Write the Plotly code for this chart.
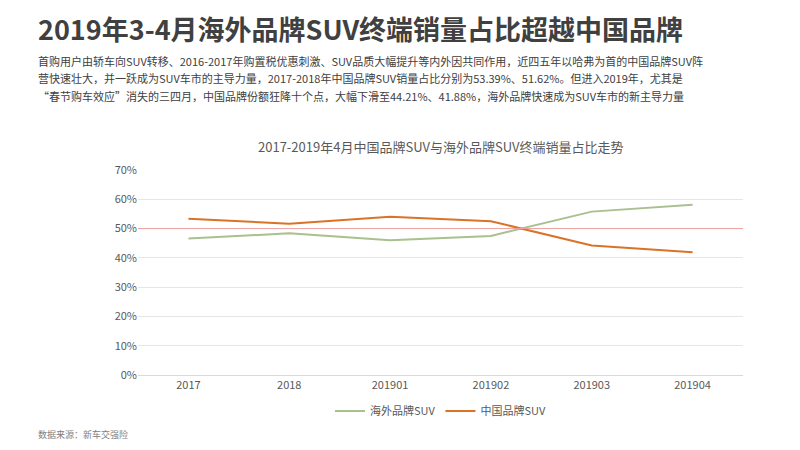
import plotly.graph_objects as go

periods = ["2017", "2018", "201901", "201902", "201903", "201904"]
overseas = [46.61, 48.38, 46.0, 47.5, 55.79, 58.12]
china = [53.39, 51.62, 54.0, 52.5, 44.21, 41.88]
y_ticks = [0, 10, 20, 30, 40, 50, 60, 70]

font = "Noto Sans CJK SC"
fig = go.Figure()
fig.add_trace(go.Scatter(x=periods, y=overseas, mode="lines", name="海外品牌SUV",
                         line=dict(color="#a9c08f", width=2)))
fig.add_trace(go.Scatter(x=periods, y=china, mode="lines", name="中国品牌SUV",
                         line=dict(color="#d87328", width=2)))
fig.add_hline(y=50, line=dict(color="#f0a0a0", width=1))

fig.update_layout(
    width=800, height=450, plot_bgcolor="white", paper_bgcolor="white",
    font=dict(family=font, color="#595959"),
    margin=dict(l=130, r=65, t=162, b=83),
    xaxis=dict(showgrid=False, showline=True, linecolor="#d9d9d9",
               tickfont=dict(size=11), ticks="", range=[-0.5, 5.5]),
    yaxis=dict(range=[0, 70], tickvals=y_ticks,
               ticktext=[f"{v}%" for v in y_ticks], gridcolor="#e6e6e6",
               tickfont=dict(size=11), zeroline=False),
    legend=dict(orientation="h", x=0.5, xanchor="center", y=-0.175, yanchor="middle",
                font=dict(size=11)),
)
fig.add_annotation(text="2017-2019年4月中国品牌SUV与海外品牌SUV终端销量占比走势",
                   xref="paper", yref="paper", x=0.5, y=1.117, yanchor="middle",
                   showarrow=False, font=dict(size=13, color="#595959"))
fig.add_annotation(text="<b>2019年3-4月海外品牌SUV终端销量占比超越中国品牌</b>",
                   xref="paper", yref="paper", x=-0.168, y=1.69, xanchor="left",
                   yanchor="middle", showarrow=False, font=dict(size=27, color="#404040"))
body = ["首购用户由轿车向SUV转移、2016-2017年购置税优惠刺激、SUV品质大幅提升等内外因共同作用，近四五年以哈弗为首的中国品牌SUV阵",
        "营快速壮大，并一跃成为SUV车市的主导力量，2017-2018年中国品牌SUV销量占比分别为53.39%、51.62%。但进入2019年，尤其是",
        "“春节购车效应”消失的三四月，中国品牌份额狂降十个点，大幅下滑至44.21%、41.88%，海外品牌快速成为SUV车市的新主导力量"]
for line, yy in zip(body, [1.532, 1.447, 1.36]):
    fig.add_annotation(text=line, xref="paper", yref="paper", x=-0.168, y=yy,
                       xanchor="left", yanchor="middle", align="left", showarrow=False,
                       font=dict(size=11, color="#404040"))
fig.add_annotation(text="数据来源：新车交强险", xref="paper", yref="paper",
                   x=-0.168, y=-0.29, xanchor="left", yanchor="middle", showarrow=False,
                   font=dict(size=9, color="#808080"))
fig.write_html("out.html")
